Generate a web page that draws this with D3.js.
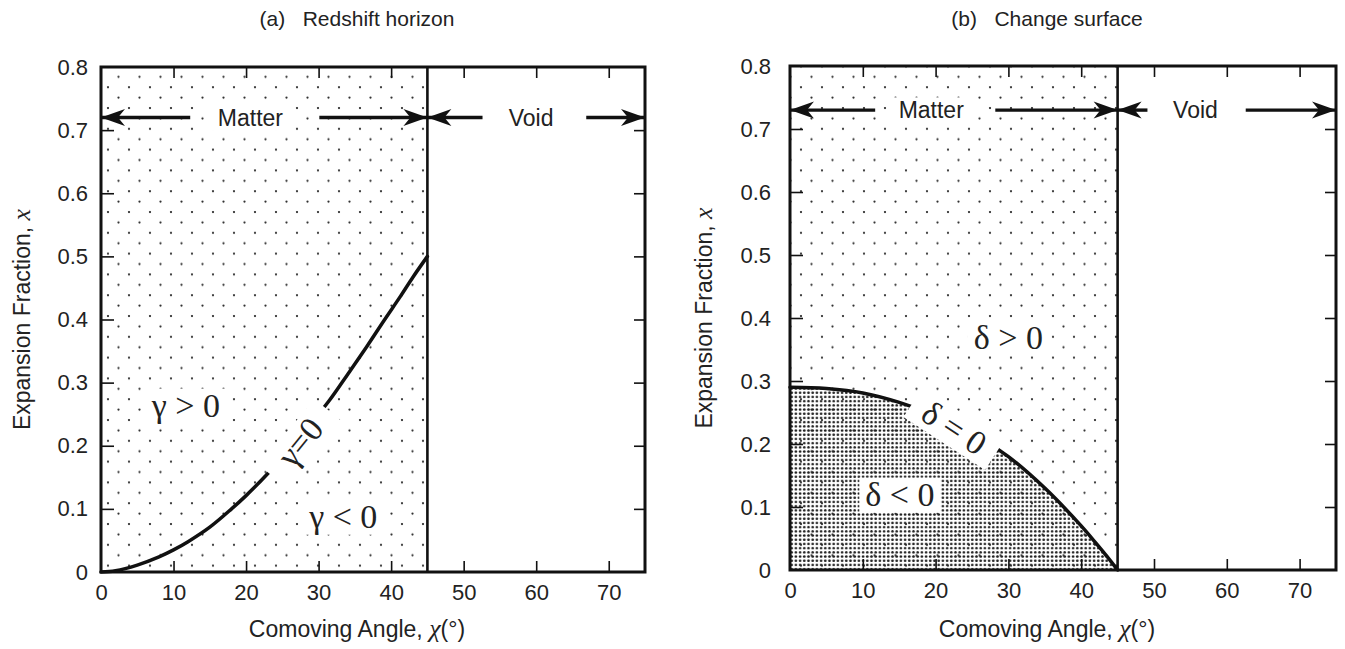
<!DOCTYPE html>
<html>
<head>
<meta charset="utf-8">
<script src="https://cdn.jsdelivr.net/npm/d3@7/dist/d3.min.js"></script>
<style>
  body { margin: 0; background: #fff; }
  text { font-family: "Liberation Sans", Arial, sans-serif; fill: #222; }
  .serif { font-family: "Liberation Serif", "Times New Roman", serif; }
</style>
</head>
<body>
<div id="vis"></div>
<script>
const WIDTH = 1345;
const HEIGHT = 649;

// ---- data ----
const X_TICKS = [0, 10, 20, 30, 40, 50, 60, 70];
const Y_TICKS = [0, 0.1, 0.2, 0.3, 0.4, 0.5, 0.6, 0.7, 0.8];
const Y_TICK_LABELS = ['0', '0.1', '0.2', '0.3', '0.4', '0.5', '0.6', '0.7', '0.8'];
const X_DOMAIN = [0, 75];
const Y_DOMAIN = [0, 0.8];
const MATTER_EDGE = 45;

const PANEL_TITLES = ['(a)   Redshift horizon', '(b)   Change surface'];

// redshift horizon, gamma = 0
const GAMMA_CHI = [0, 2, 5, 8, 10, 12, 15, 18, 20, 23, 26, 29, 31.5, 34, 36.7, 39, 41.3, 43, 45];
const GAMMA_X = [0, 0.002, 0.011, 0.024, 0.035, 0.048, 0.071, 0.1, 0.121, 0.156, 0.195, 0.236, 0.272, 0.313, 0.358, 0.398, 0.437, 0.467, 0.5];

// change surface, delta = 0
const DELTA_CHI = [0, 5, 10, 15, 20, 25, 30, 35, 40, 42, 44, 45];
const DELTA_X = [0.29, 0.288, 0.281, 0.266, 0.245, 0.218, 0.18, 0.13, 0.07, 0.043, 0.015, 0];

// Matter / Void arrows: tail and tip in chi
const ARROW_TAIL_A = [12.3, 30.1, 52.6, 66.9];
const ARROW_TIP_A = [0, 45, 45, 75];
const ARROW_TAIL_B = [11.7, 28.2, 49.1, 62.6];
const ARROW_TIP_B = [0, 45, 45, 75];
const ARROW_LEVEL = [0.72, 0.73];
const REGION_NAMES = ['Matter', 'Void'];
const REGION_CHI_A = [20.6, 59.3];
const REGION_CHI_B = [19.4, 55.7];

// region labels
const LABELS_A = ['γ > 0', 'γ < 0', 'γ=0'];
const LABEL_CHI_A = [11.7, 33.4, 27.4];
const LABEL_X_A = [0.265, 0.089, 0.206];
const LABELS_B = ['δ > 0', 'δ < 0', 'δ = 0'];
const LABEL_CHI_B = [30, 15.1, 22.6];
const LABEL_X_B = [0.37, 0.121, 0.226];

// ---- layout ----
const PANELS = [
  {left: 101, right: 645, top: 67, bottom: 572, yPad: 13, yTitleX: 30, angle: -51, gapPad: 17},
  {left: 790, right: 1336, top: 66, bottom: 570, yPad: 19, yTitleX: 712, angle: 33, gapPad: 14}
];

const svg = d3.select('#vis')
  .append('svg')
    .attr('width', WIDTH)
    .attr('height', HEIGHT);

const defs = svg.append('defs');

// sparse dots for matter region
const sparse = defs.append('pattern')
  .attr('id', 'sparse')
  .attr('patternUnits', 'userSpaceOnUse')
  .attr('width', 21)
  .attr('height', 20.8);
sparse.append('circle').attr('cx', 3).attr('cy', 4).attr('r', 1.15).attr('fill', '#2a2a2a');
sparse.append('circle').attr('cx', 13.5).attr('cy', 14.4).attr('r', 1.15).attr('fill', '#2a2a2a');

// dense dots for delta < 0
const dense = defs.append('pattern')
  .attr('id', 'dense')
  .attr('patternUnits', 'userSpaceOnUse')
  .attr('width', 4.2)
  .attr('height', 4.2);
dense.append('circle').attr('cx', 2.1).attr('cy', 2.1).attr('r', 1.35).attr('fill', '#222');

defs.append('marker')
  .attr('id', 'head')
  .attr('markerUnits', 'userSpaceOnUse')
  .attr('viewBox', '-26 -10 28 20')
  .attr('markerWidth', 28)
  .attr('markerHeight', 20)
  .attr('refX', 0)
  .attr('refY', 0)
  .attr('orient', 'auto')
  .append('path')
    .attr('d', 'M0,0L-24,-8.5L-17,0L-24,8.5Z')
    .attr('fill', '#111');

function addLabel(g, x, y, txt, angle, padX) {
  const lg = g.append('g')
    .attr('transform', 'translate(' + x + ',' + y + ') rotate(' + angle + ')');
  const bg = lg.append('rect').attr('fill', '#fff');
  const t = lg.append('text')
    .attr('class', 'serif')
    .attr('text-anchor', 'middle')
    .attr('dy', '0.35em')
    .attr('font-size', 34)
    .style('white-space', 'pre')
    .text(txt);
  const b = t.node().getBBox();
  bg.attr('x', b.x - padX).attr('y', b.y + 2).attr('width', b.width + 2 * padX).attr('height', b.height - 2);
}

const smooth = d3.curveCatmullRom.alpha(0.5);

PANELS.forEach((p, i) => {
  const X_SCALE = d3.scaleLinear().domain(X_DOMAIN).range([p.left, p.right]);
  const Y_SCALE = d3.scaleLinear().domain(Y_DOMAIN).range([p.bottom, p.top]);
  const g = svg.append('g');

  // matter region
  g.append('rect')
    .attr('x', X_SCALE(0))
    .attr('y', Y_SCALE(0.8))
    .attr('width', X_SCALE(MATTER_EDGE) - X_SCALE(0))
    .attr('height', Y_SCALE(0) - Y_SCALE(0.8))
    .attr('fill', 'url(#sparse)');

  const chi = i === 0 ? GAMMA_CHI : DELTA_CHI;
  const xs = i === 0 ? GAMMA_X : DELTA_X;
  const pts = chi.map((c, k) => [c, xs[k]]);

  if (i === 1) {
    g.append('path')
      .datum(pts)
      .attr('d', d3.area()
        .x(d => X_SCALE(d[0]))
        .y0(Y_SCALE(0))
        .y1(d => Y_SCALE(d[1]))
        .curve(smooth))
      .attr('fill', 'url(#dense)');
  }

  g.append('path')
    .datum(pts)
    .attr('d', d3.line()
      .x(d => X_SCALE(d[0]))
      .y(d => Y_SCALE(d[1]))
      .curve(smooth))
    .attr('fill', 'none')
    .attr('stroke', '#111')
    .attr('stroke-width', 3.5)
    .attr('stroke-linecap', 'round');

  // axes, ticks pointing inward
  const axB = g.append('g')
    .attr('transform', 'translate(0,' + p.bottom + ')')
    .call(d3.axisBottom(X_SCALE).tickValues(X_TICKS).tickSize(-11).tickPadding(12).tickFormat(d3.format('d')));
  const axT = g.append('g')
    .attr('transform', 'translate(0,' + p.top + ')')
    .call(d3.axisTop(X_SCALE).tickValues(X_TICKS.slice(1)).tickSize(-11).tickFormat(''));
  const axL = g.append('g')
    .attr('transform', 'translate(' + p.left + ',0)')
    .call(d3.axisLeft(Y_SCALE).tickValues(Y_TICKS).tickSize(-13).tickPadding(p.yPad)
      .tickFormat((d, k) => Y_TICK_LABELS[k]));
  const axR = g.append('g')
    .attr('transform', 'translate(' + p.right + ',0)')
    .call(d3.axisRight(Y_SCALE).tickValues(Y_TICKS.slice(1, -1)).tickSize(-11).tickFormat(''));
  [axB, axT, axL, axR].forEach(ax => {
    ax.select('.domain').remove();
    ax.selectAll('line').attr('stroke', '#111').attr('stroke-width', 1.6);
    ax.selectAll('text').attr('font-size', 22).attr('fill', '#222')
      .attr('font-family', '"Liberation Sans", Arial, sans-serif');
  });
  axB.selectAll('.tick').filter(d => d === 0).select('line').remove();
  axL.selectAll('.tick').filter(d => d === 0 || d === 0.8).select('line').remove();

  // frame and matter edge
  g.append('rect')
    .attr('x', X_SCALE(0))
    .attr('y', Y_SCALE(0.8))
    .attr('width', X_SCALE(75) - X_SCALE(0))
    .attr('height', Y_SCALE(0) - Y_SCALE(0.8))
    .attr('fill', 'none')
    .attr('stroke', '#111')
    .attr('stroke-width', 3);
  g.append('line')
    .attr('x1', X_SCALE(MATTER_EDGE)).attr('x2', X_SCALE(MATTER_EDGE))
    .attr('y1', Y_SCALE(0.8)).attr('y2', Y_SCALE(0))
    .attr('stroke', '#111')
    .attr('stroke-width', 2.6);

  // Matter / Void arrows
  const tails = i === 0 ? ARROW_TAIL_A : ARROW_TAIL_B;
  const tips = i === 0 ? ARROW_TIP_A : ARROW_TIP_B;
  tails.forEach((t, k) => {
    g.append('line')
      .attr('x1', X_SCALE(t)).attr('x2', X_SCALE(tips[k]))
      .attr('y1', Y_SCALE(ARROW_LEVEL[i])).attr('y2', Y_SCALE(ARROW_LEVEL[i]))
      .attr('stroke', '#111')
      .attr('stroke-width', 3.4)
      .attr('marker-end', 'url(#head)');
  });
  const regionChi = i === 0 ? REGION_CHI_A : REGION_CHI_B;
  REGION_NAMES.forEach((name, k) => {
    const t = g.append('text')
      .attr('x', X_SCALE(regionChi[k]))
      .attr('y', Y_SCALE(ARROW_LEVEL[i]))
      .attr('dy', '0.36em')
      .attr('text-anchor', 'middle')
      .attr('font-size', 23)
      .text(name);
    if (k === 0) {
      const b = t.node().getBBox();
      g.insert('rect', function() { return t.node(); })
        .attr('x', b.x - 8).attr('y', b.y).attr('width', b.width + 16).attr('height', b.height)
        .attr('fill', '#fff');
    }
  });

  // region labels
  const labels = i === 0 ? LABELS_A : LABELS_B;
  const lChi = i === 0 ? LABEL_CHI_A : LABEL_CHI_B;
  const lX = i === 0 ? LABEL_X_A : LABEL_X_B;
  labels.forEach((txt, k) => {
    const rotated = k === 2;
    addLabel(g, X_SCALE(lChi[k]), Y_SCALE(lX[k]), txt,
      rotated ? p.angle : 0, rotated ? p.gapPad : 6);
  });

  // titles
  const cx = (p.left + p.right) / 2 - 16;
  svg.append('text')
    .attr('x', cx)
    .attr('y', 26)
    .attr('text-anchor', 'middle')
    .attr('font-size', 21)
    .style('white-space', 'pre')
    .text(PANEL_TITLES[i]);

  const xt = svg.append('text')
    .attr('x', cx)
    .attr('y', 637)
    .attr('text-anchor', 'middle')
    .attr('font-size', 23);
  xt.append('tspan').text('Comoving Angle, ');
  xt.append('tspan').attr('class', 'serif').attr('font-style', 'italic').attr('font-size', 26).text('χ');
  xt.append('tspan').text('(°)');

  const yt = svg.append('text')
    .attr('transform', 'translate(' + p.yTitleX + ',' + ((p.top + p.bottom) / 2) + ') rotate(-90)')
    .attr('text-anchor', 'middle')
    .attr('font-size', 23);
  yt.append('tspan').text('Expansion Fraction, ');
  yt.append('tspan').attr('class', 'serif').attr('font-style', 'italic').attr('font-size', 26).text('x');
});
</script>
</body>
</html>
